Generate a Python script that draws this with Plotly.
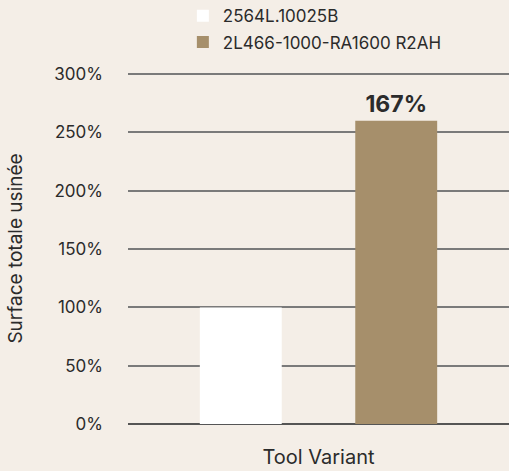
import plotly.graph_objects as go

category = ["Tool Variant"]
series_names = ["2564L.10025B", "2L466-1000-RA1600 R2AH"]
values_a = [100]
values_b = [260]
label_b = ["167%"]
y_ticks = [0, 50, 100, 150, 200, 250, 300]
y_tick_labels = [f"{v}%" for v in y_ticks]

BG = "#f4eee7"
TXT = "#2b2b2b"

fig = go.Figure()
fig.add_trace(go.Bar(x=category, y=values_a, name=series_names[0],
                     marker=dict(color="#ffffff", line=dict(width=0)),
                     legendgroup="a"))
fig.add_trace(go.Bar(x=category, y=values_b, name=series_names[1],
                     marker=dict(color="#a68f6b", line=dict(width=0)),
                     text=label_b, textposition="outside", cliponaxis=False,
                     textfont=dict(size=23, color=TXT, family="Inter", weight="bold"),
                     legendgroup="b"))

fig.update_layout(
    width=509, height=471,
    paper_bgcolor=BG, plot_bgcolor=BG,
    font=dict(family="Inter", size=17, color=TXT),
    margin=dict(l=128, r=0, t=73, b=47, autoexpand=False),
    barmode="group", bargap=0.184, bargroupgap=0.473,
    showlegend=True,
    legend=dict(x=0.144, xanchor="left", y=1.213, yanchor="top",
                orientation="v", bgcolor="rgba(0,0,0,0)",
                font=dict(size=17, color=TXT), tracegroupgap=1,
                traceorder="grouped"),
    xaxis=dict(showticklabels=False, showgrid=False, zeroline=False, automargin=False,
               title=dict(text="Tool Variant", font=dict(size=20, color=TXT), standoff=25)),
    yaxis=dict(range=[0, 301], tickvals=y_ticks, ticktext=y_tick_labels,
               tickfont=dict(size=17, color=TXT),
               showgrid=True, gridcolor="#7a7a7a", gridwidth=1.5,
               zeroline=True, zerolinecolor="#555555", zerolinewidth=1.5,
               ticks="", ticklabelstandoff=24, automargin=False,
               title=dict(text="Surface totale usinée", font=dict(size=19, color=TXT), standoff=26)),
)

fig.write_html("out.html", config={"displayModeBar": False},
               post_script="document.body.style.margin='0';document.body.style.background='" + BG + "';")
